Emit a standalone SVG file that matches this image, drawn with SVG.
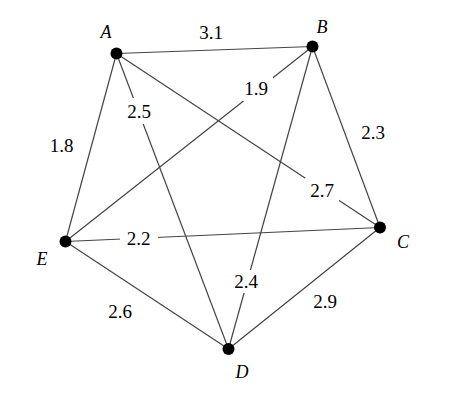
<svg xmlns="http://www.w3.org/2000/svg" width="473" height="410" viewBox="0 0 473 410">
<style>
.e{stroke:#444;stroke-width:1.2;fill:none}
.n{fill:#000}
.w{font-size:19px;fill:#000;text-anchor:middle}
.l{font-size:18px;font-style:italic;fill:#000;text-anchor:middle}
.bg{fill:#fff}
</style>
<rect width="473" height="410" fill="#fff"/>
<g id="edges">
<line class="e" x1="116.5" y1="53.5" x2="312.5" y2="46.5"/>
<line class="e" x1="116.5" y1="53.5" x2="380" y2="227.5"/>
<line class="e" x1="116.5" y1="53.5" x2="228.5" y2="349"/>
<line class="e" x1="116.5" y1="53.5" x2="65.5" y2="241.5"/>
<line class="e" x1="312.5" y1="46.5" x2="380" y2="227.5"/>
<line class="e" x1="312.5" y1="46.5" x2="228.5" y2="349"/>
<line class="e" x1="312.5" y1="46.5" x2="65.5" y2="241.5"/>
<line class="e" x1="380" y1="227.5" x2="228.5" y2="349"/>
<line class="e" x1="380" y1="227.5" x2="65.5" y2="241.5"/>
<line class="e" x1="228.5" y1="349" x2="65.5" y2="241.5"/>
</g>
<g id="edge-labels" font-family="Liberation Serif, serif">
<text class="w" x="211" y="39">3.1</text>
<rect class="bg" x="239" y="77" width="34" height="24"/>
<text class="w" x="256" y="95">1.9</text>
<rect class="bg" x="123" y="98" width="32" height="26"/>
<text class="w" x="139" y="118">2.5</text>
<text class="w" x="61.5" y="152">1.8</text>
<text class="w" x="373" y="139">2.3</text>
<rect class="bg" x="305" y="178" width="34" height="23"/>
<text class="w" x="322" y="197">2.7</text>
<rect class="bg" x="120" y="226" width="38" height="24"/>
<text class="w" x="138.5" y="245">2.2</text>
<rect class="bg" x="230" y="270" width="32" height="23"/>
<text class="w" x="246" y="288">2.4</text>
<text class="w" x="325" y="308">2.9</text>
<text class="w" x="120" y="318">2.6</text>
</g>
<g font-family="Liberation Serif, serif">
<g id="node-A"><circle class="n" cx="116.5" cy="53.5" r="6"/><text class="l" x="106" y="38">A</text></g>
<g id="node-B"><circle class="n" cx="312.5" cy="46.5" r="6"/><text class="l" x="322" y="33">B</text></g>
<g id="node-C"><circle class="n" cx="380" cy="227.5" r="6"/><text class="l" x="403" y="248">C</text></g>
<g id="node-D"><circle class="n" cx="228.5" cy="349" r="6"/><text class="l" x="242" y="378">D</text></g>
<g id="node-E"><circle class="n" cx="65.5" cy="241.5" r="6"/><text class="l" x="42" y="265">E</text></g>
</g>
</svg>
